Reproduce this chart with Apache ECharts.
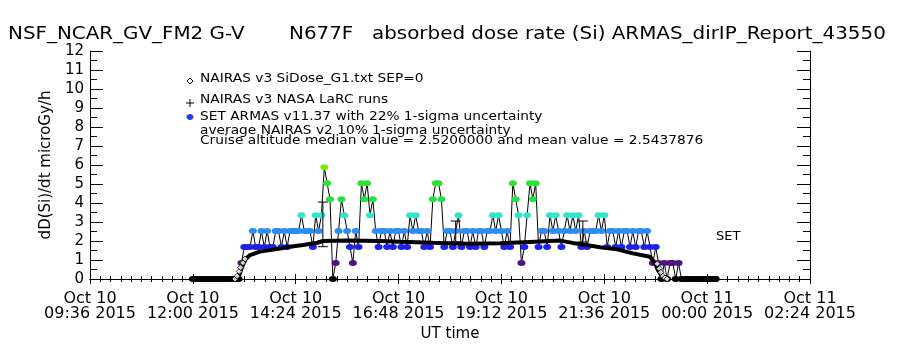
<!DOCTYPE html>
<html>
<head>
<meta charset="utf-8">
<script src="https://cdn.jsdelivr.net/npm/echarts@6/dist/echarts.min.js"></script>
<style>
  html, body { margin: 0; background: #fff; }
  #main { width: 900px; height: 350px; }
</style>
</head>
<body>
<div id="main"></div>
<script>
const FONT = 'DejaVu Sans';

// x axis in hours UT counted from Oct 10 2015 00:00
const xMin = 9.6;
const xMax = 26.4;
const xStep = 2.4;

// ARMAS dose rate, in steps of 0.84 microGy/h, one sample every 4 min from 12:00 UT
const armasStart = '12:00';
const armasCadence = 4;
const armasStep = 0.84;
const armasLevels = [
  0, 0, 0, 0, 0, 0, 0, 0, 0, 0, 0, 0, 0, 0, 0, 0, 0,
  1, 2, 2, 2, 3, 2, 2, 3, 2, 3, 2, 2, 3, 3, 2, 3, 2, 3, 3, 3,
  3, 4, 3, 3, 3, 2, 4, 3, 4, 7, 6, 5, 0, 1, 3, 5, 4, 3, 2, 1,
  3, 2, 6, 5, 6, 4, 5, 3, 2, 3, 3, 2, 3, 2, 3, 3, 2, 3, 2, 4,
  3, 4, 3, 3, 2, 3, 2, 5, 6, 6, 5, 2, 3, 3, 2, 3, 4, 2, 3, 3,
  2, 3, 2, 3, 3, 2, 3, 3, 4, 3, 4, 3, 2, 3, 2, 6, 5, 4, 1, 2,
  4, 6, 5, 6, 2, 3, 3, 2, 4, 3, 4, 3, 2, 3, 4, 3, 4, 3, 4, 2,
  3, 2, 3, 3, 3, 4, 3, 4, 2, 3, 3, 2, 3, 2, 3, 3, 2, 3, 2, 3,
  3, 2, 3, 2, 1, 2, 1, 0, 1, 0, 1, 1, 0, 1,
  0, 0, 0, 0, 0, 0, 0, 0, 0, 0, 0, 0, 0
];
const levelColors = ['#000000', '#4e1582', '#1f22e6', '#2c8cf0', '#34e4c6', '#27de4c', '#2ee23a', '#7ae41c'];

// NAIRAS v3 NASA LaRC runs
const nairasTimes = ['13:02', '13:06', '13:10', '13:14', '13:20', '13:34', '13:48', '14:02', '14:16', '14:34',
  '14:54', '15:02', '15:36', '16:22', '16:50', '17:36', '18:24', '19:10', '19:52', '20:34',
  '20:52', '21:09', '21:30', '21:54', '22:16', '22:40', '22:47', '22:51', '22:58', '23:04'];
const nairasValues = [0, 0.3, 0.75, 1.05, 1.26, 1.44, 1.52, 1.6, 1.7, 1.79,
  1.91, 2.0, 2.02, 2.0, 1.96, 1.91, 1.86, 1.88, 1.95, 2.02,
  1.9, 1.8, 1.67, 1.56, 1.35, 1.17, 0.84, 0.47, 0.1, 0];

// NAIRAS v3 SiDose_G1.txt SEP=0
const sidoseTimes = ['12:59', '13:02', '13:05', '13:07', '13:10', '13:13',
  '22:50', '22:53', '22:55', '22:58', '23:01', '23:04'];
const sidoseValues = [0, 0.15, 0.4, 0.6, 0.85, 1.05, 0.8, 0.55, 0.35, 0.15, 0.05, 0];

// error bars
const errTimes = ['15:02', '18:08', '21:06'];
const errLow = [1.7, 1.95, 1.95];
const errHigh = [4.05, 3.05, 3.05];

const hours = (s) => {
  const [h, m] = s.split(':').map(Number);
  return h + m / 60;
};

function tickLabel(v) {
  const m = Math.round(v * 60);
  const day = 10 + Math.floor(m / 1440);
  const mm = m % 1440;
  const hh = String(Math.floor(mm / 60)).padStart(2, '0');
  const mi = String(mm % 60).padStart(2, '0');
  return 'Oct ' + day + '\n' + hh + ':' + mi + ' 2015';
}

const t0 = hours(armasStart);
const armasData = armasLevels.map((lv, i) => ({
  value: [t0 + (i * armasCadence) / 60, lv * armasStep],
  itemStyle: { color: levelColors[lv] }
}));
const nairasData = nairasTimes.map((t, i) => [hours(t), nairasValues[i]]);
const sidoseData = sidoseTimes.map((t, i) => [hours(t), sidoseValues[i]]);
const errData = errTimes.map((t, i) => [hours(t), errLow[i], errHigh[i]]);

const black = { color: '#000', width: 1 };

const chart = echarts.init(document.getElementById('main'));

// the plot used a wide stroke font, so texts get stretched a little
const txt = (x, y, text, size, stretch) => ({
  type: 'text', x: x, y: y, z: 100, scaleX: stretch || 1,
  style: { text: text, fill: '#000', font: size + 'px "' + FONT + '"', verticalAlign: 'middle' }
});

chart.setOption({
  animation: false,
  backgroundColor: '#fff',
  grid: { left: 90, right: 90, top: 51, bottom: 71 },
  xAxis: [
    {
      type: 'value', min: xMin, max: xMax, interval: xStep, position: 'bottom',
      axisLine: { show: true, lineStyle: black },
      axisTick: { show: true, inside: true, length: 5, lineStyle: black },
      minorTick: { show: true, splitNumber: 10, length: 3, lineStyle: black },
      splitLine: { show: false },
      axisLabel: { formatter: tickLabel, color: '#000', fontFamily: FONT, fontSize: 16, lineHeight: 15, margin: 12 },
      name: 'UT time', nameLocation: 'middle', nameGap: 48,
      nameTextStyle: { color: '#000', fontFamily: FONT, fontSize: 15 }
    },
    {
      type: 'value', min: xMin, max: xMax, interval: xStep, position: 'top',
      axisLine: { show: true, lineStyle: black },
      axisTick: { show: true, inside: true, length: 5, lineStyle: black },
      minorTick: { show: true, splitNumber: 10, length: 3, lineStyle: black },
      splitLine: { show: false },
      axisLabel: { show: false }
    }
  ],
  yAxis: [
    {
      type: 'value', min: 0, max: 12, interval: 1, position: 'left',
      axisLine: { show: true, lineStyle: black },
      axisTick: { show: true, inside: true, length: 13, lineStyle: black },
      minorTick: { show: true, splitNumber: 2, length: 7, lineStyle: black },
      splitLine: { show: false },
      axisLabel: { color: '#000', fontFamily: FONT, fontSize: 15, margin: 6 },
      name: 'dD(Si)/dt microGy/h', nameLocation: 'middle', nameGap: 36, nameRotate: 90,
      nameTextStyle: { color: '#000', fontFamily: FONT, fontSize: 15 }
    },
    {
      type: 'value', min: 0, max: 12, interval: 1, position: 'right',
      axisLine: { show: true, lineStyle: black },
      axisTick: { show: true, inside: true, length: 13, lineStyle: black },
      minorTick: { show: true, splitNumber: 2, length: 7, lineStyle: black },
      splitLine: { show: false },
      axisLabel: { show: false }
    }
  ],
  series: [
    {
      name: 'SET ARMAS', type: 'line', z: 2,
      data: armasData,
      symbol: 'circle', symbolSize: [8, 6],
      lineStyle: { color: '#000', width: 1 },
      itemStyle: { color: '#1f22e6' }
    },
    {
      name: 'NAIRAS v3 NASA LaRC runs', type: 'line', z: 3,
      data: nairasData, showSymbol: false,
      lineStyle: { color: '#000', width: 4 }
    },
    {
      name: 'NAIRAS v3 SiDose_G1', type: 'scatter', z: 4,
      data: sidoseData, symbol: 'diamond', symbolSize: 6,
      itemStyle: { color: '#fff', borderColor: '#000', borderWidth: 1 }
    },
    {
      name: 'uncertainty', type: 'custom', z: 5,
      data: errData,
      encode: { x: 0, y: [1, 2] },
      renderItem: function (params, api) {
        const lo = api.coord([api.value(0), api.value(1)]);
        const hi = api.coord([api.value(0), api.value(2)]);
        const hw = 5;
        const s = { stroke: '#000', lineWidth: 1 };
        return {
          type: 'group',
          children: [
            { type: 'line', shape: { x1: lo[0], y1: lo[1], x2: hi[0], y2: hi[1] }, style: s },
            { type: 'line', shape: { x1: hi[0] - hw, y1: hi[1], x2: hi[0] + hw, y2: hi[1] }, style: s },
            { type: 'line', shape: { x1: lo[0] - hw, y1: lo[1], x2: lo[0] + hw, y2: lo[1] }, style: s }
          ]
        };
      }
    }
  ],
  graphic: [
    txt(8, 35, 'NSF_NCAR_GV_FM2 G-V', 17, 1.17),
    txt(289, 35, 'N677F', 17, 1.17),
    txt(372, 35, 'absorbed dose rate (Si) ARMAS_dirIP_Report_43550', 17, 1.17),
    txt(200, 79, 'NAIRAS v3 SiDose_G1.txt SEP=0', 12.5, 1.1),
    txt(200, 100, 'NAIRAS v3 NASA LaRC runs', 12.5, 1.1),
    txt(200, 117, 'SET ARMAS v11.37 with 22% 1-sigma uncertainty', 12.5, 1.1),
    txt(200, 131, 'average NAIRAS v2 10% 1-sigma uncertainty', 12.5, 1.1),
    txt(200, 141, 'Cruise altitude median value = 2.5200000 and mean value = 2.5437876', 12.5, 1.1),
    txt(716, 237, 'SET', 13),
    { type: 'polygon', z: 100, shape: { points: [[190, 78], [193, 81], [190, 84], [187, 81]] }, style: { fill: '#fff', stroke: '#000', lineWidth: 1 } },
    { type: 'line', z: 100, shape: { x1: 186, y1: 103, x2: 194, y2: 103 }, style: { stroke: '#000', lineWidth: 1 } },
    { type: 'line', z: 100, shape: { x1: 190, y1: 99, x2: 190, y2: 107 }, style: { stroke: '#000', lineWidth: 1 } },
    { type: 'ellipse', z: 100, shape: { cx: 190, cy: 117, rx: 3.5, ry: 3 }, style: { fill: '#1f3ae6' } }
  ]
});
</script>
</body>
</html>
